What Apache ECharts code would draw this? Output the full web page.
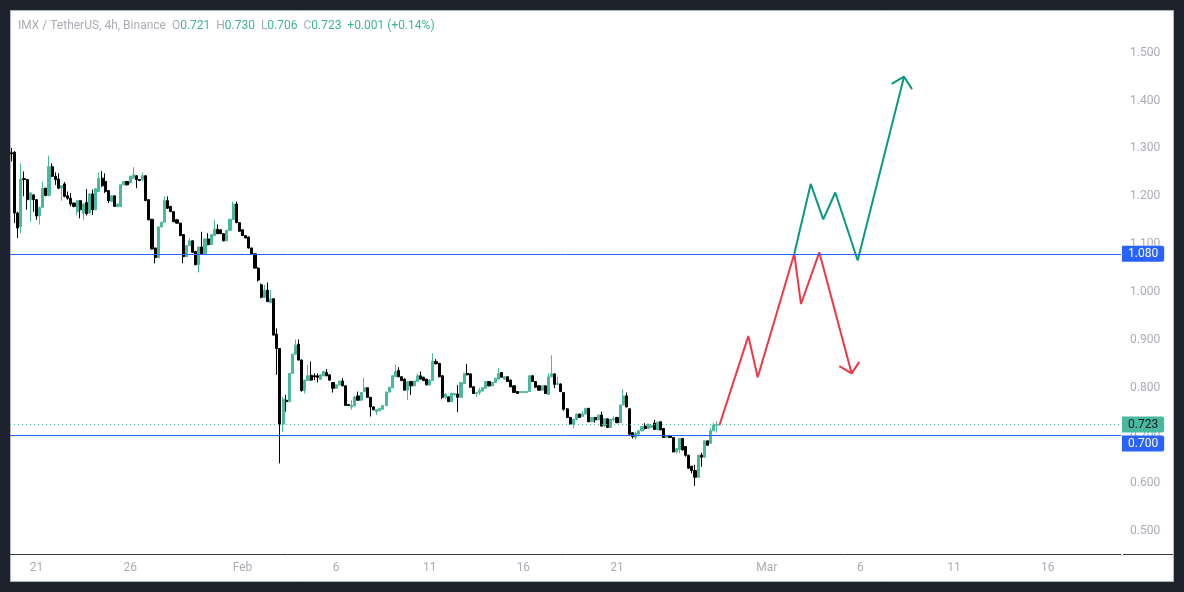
<!DOCTYPE html>
<html><head><meta charset="utf-8">
<script src="https://cdn.jsdelivr.net/npm/echarts@6/dist/echarts.min.js"></script>
<style>html,body{margin:0;padding:0;background:#1e222d;} #c{width:1184px;height:592px;}</style>
</head><body><div id="c"></div>
<script>
const FONT = 'Roboto, "Liberation Sans", sans-serif';

// 4h slots, starting Jan 19 2025 16:00 (UTC)
const slotStart = Date.UTC(2025, 0, 19, 16);
const slotCount = 356;
const categories = [];
for (let i = 0; i < slotCount; i++) {
  const d = new Date(slotStart + i * 4 * 3600 * 1000);
  categories.push(d.toISOString().slice(0, 13).replace('T', ' ') + ':00');
}

const tickDates = ['2025-01-21 00:00','2025-01-26 00:00','2025-02-01 00:00','2025-02-06 00:00','2025-02-11 00:00','2025-02-16 00:00','2025-02-21 00:00','2025-03-01 00:00','2025-03-06 00:00','2025-03-11 00:00','2025-03-16 00:00'];
const tickLabels = ['21','26','Feb','6','11','16','21','Mar','6','11','16'];

const opens = [
1.291,1.292,1.165,1.137,1.237,1.235,1.193,1.203,1.193,1.159,
1.177,1.217,1.202,1.262,1.242,1.236,1.217,1.226,1.201,1.196,
1.186,1.168,1.191,1.165,1.187,1.165,1.205,1.172,1.210,1.238,
1.231,1.212,1.189,1.201,1.179,1.179,1.224,1.231,1.228,1.238,
1.243,1.235,1.235,1.243,1.193,1.152,1.092,1.072,1.136,1.146,
1.191,1.179,1.168,1.151,1.144,1.120,1.074,1.097,1.107,1.085,
1.057,1.094,1.080,1.111,1.099,1.118,1.131,1.130,1.122,1.107,
1.129,1.152,1.184,1.145,1.130,1.118,1.115,1.092,1.080,1.050,
1.015,0.989,1.004,0.978,0.986,0.912,0.882,0.724,0.774,0.771,
0.830,0.870,0.891,0.858,0.794,0.815,0.826,0.825,0.825,0.818,
0.825,0.832,0.827,0.811,0.799,0.806,0.814,0.804,0.765,0.760,
0.762,0.783,0.774,0.792,0.800,0.780,0.760,0.750,0.752,0.755,
0.763,0.791,0.800,0.823,0.836,0.823,0.818,0.795,0.813,0.804,
0.813,0.825,0.822,0.818,0.806,0.815,0.855,0.851,0.825,0.780,
0.781,0.771,0.785,0.787,0.780,0.809,0.830,0.829,0.802,0.788,
0.790,0.793,0.799,0.813,0.804,0.811,0.818,0.832,0.818,0.823,
0.816,0.804,0.792,0.790,0.790,0.790,0.792,0.825,0.813,0.804,
0.795,0.804,0.786,0.823,0.829,0.807,0.808,0.790,0.756,0.738,
0.724,0.734,0.745,0.740,0.745,0.757,0.729,0.738,0.733,0.743,
0.720,0.735,0.717,0.733,0.738,0.727,0.764,0.783,0.756,0.706,
0.696,0.703,0.710,0.720,0.715,0.717,0.726,0.712,0.729,0.715,
0.696,0.699,0.696,0.666,0.671,0.694,0.677,0.659,0.636,0.627,
0.613,0.659,0.655,0.689,0.684,0.710,0.721];
const closes = [
1.289,1.165,1.134,1.236,1.235,1.193,1.207,1.193,1.159,1.177,
1.217,1.202,1.262,1.242,1.235,1.217,1.222,1.200,1.196,1.184,
1.179,1.191,1.172,1.184,1.164,1.205,1.172,1.216,1.238,1.222,
1.210,1.191,1.201,1.179,1.184,1.224,1.231,1.224,1.242,1.245,
1.235,1.233,1.243,1.191,1.151,1.090,1.072,1.136,1.146,1.191,
1.175,1.168,1.147,1.144,1.118,1.074,1.097,1.107,1.083,1.057,
1.094,1.080,1.111,1.099,1.120,1.131,1.122,1.122,1.107,1.129,
1.152,1.184,1.145,1.127,1.118,1.113,1.092,1.080,1.050,1.025,
0.989,1.004,0.980,0.986,0.910,0.882,0.724,0.776,0.771,0.830,
0.870,0.889,0.858,0.794,0.816,0.825,0.816,0.823,0.822,0.827,
0.834,0.825,0.816,0.799,0.806,0.814,0.804,0.763,0.763,0.763,
0.781,0.774,0.790,0.800,0.780,0.760,0.754,0.754,0.757,0.763,
0.791,0.801,0.825,0.834,0.823,0.815,0.795,0.813,0.804,0.814,
0.825,0.818,0.815,0.806,0.816,0.855,0.850,0.823,0.780,0.787,
0.771,0.788,0.788,0.780,0.811,0.830,0.827,0.801,0.788,0.790,
0.795,0.800,0.813,0.804,0.811,0.820,0.830,0.822,0.823,0.813,
0.802,0.790,0.788,0.792,0.792,0.792,0.825,0.813,0.801,0.795,
0.804,0.788,0.823,0.829,0.807,0.809,0.792,0.755,0.738,0.724,
0.734,0.745,0.738,0.745,0.757,0.729,0.738,0.733,0.743,0.720,
0.735,0.717,0.734,0.735,0.727,0.764,0.783,0.760,0.703,0.698,
0.705,0.710,0.719,0.715,0.724,0.721,0.713,0.728,0.712,0.696,
0.699,0.696,0.666,0.673,0.694,0.670,0.659,0.632,0.627,0.613,
0.659,0.655,0.689,0.680,0.710,0.722,0.723];
const lows = [
1.273,1.144,1.113,1.123,1.200,1.172,1.147,1.168,1.151,1.141,
1.176,1.200,1.200,1.240,1.224,1.215,1.191,1.198,1.193,1.179,
1.177,1.161,1.154,1.151,1.160,1.164,1.161,1.171,1.209,1.220,
1.207,1.186,1.188,1.178,1.177,1.178,1.223,1.223,1.227,1.237,
1.217,1.232,1.231,1.190,1.150,1.089,1.060,1.071,1.135,1.145,
1.174,1.167,1.146,1.143,1.117,1.060,1.073,1.096,1.082,1.056,
1.041,1.079,1.079,1.098,1.098,1.117,1.121,1.121,1.106,1.106,
1.128,1.151,1.144,1.126,1.117,1.112,1.091,1.079,1.049,1.022,
0.987,0.987,0.979,0.977,0.909,0.827,0.642,0.708,0.750,0.770,
0.829,0.869,0.857,0.792,0.788,0.814,0.815,0.816,0.811,0.817,
0.824,0.824,0.815,0.790,0.798,0.805,0.803,0.762,0.762,0.754,
0.761,0.773,0.773,0.791,0.779,0.740,0.753,0.743,0.751,0.754,
0.762,0.790,0.799,0.822,0.822,0.814,0.794,0.774,0.785,0.803,
0.812,0.817,0.814,0.805,0.805,0.814,0.849,0.822,0.776,0.776,
0.770,0.770,0.784,0.749,0.779,0.808,0.826,0.800,0.787,0.781,
0.785,0.792,0.798,0.803,0.803,0.810,0.817,0.821,0.817,0.812,
0.801,0.789,0.787,0.789,0.789,0.789,0.791,0.812,0.800,0.794,
0.794,0.787,0.785,0.822,0.799,0.806,0.791,0.752,0.737,0.723,
0.715,0.733,0.737,0.739,0.744,0.728,0.728,0.727,0.732,0.719,
0.719,0.716,0.716,0.729,0.726,0.726,0.763,0.759,0.701,0.694,
0.692,0.702,0.709,0.713,0.714,0.716,0.712,0.711,0.711,0.695,
0.695,0.695,0.665,0.663,0.663,0.669,0.656,0.631,0.621,0.595,
0.612,0.635,0.654,0.679,0.683,0.709,0.706];
const highs = [
1.301,1.295,1.168,1.269,1.252,1.236,1.209,1.205,1.194,1.178,
1.231,1.218,1.285,1.269,1.250,1.248,1.223,1.230,1.210,1.207,
1.187,1.192,1.192,1.185,1.215,1.206,1.214,1.217,1.250,1.253,
1.248,1.213,1.202,1.202,1.185,1.225,1.232,1.232,1.243,1.261,
1.244,1.236,1.250,1.244,1.194,1.153,1.093,1.137,1.147,1.200,
1.200,1.180,1.169,1.152,1.145,1.121,1.098,1.113,1.108,1.086,
1.095,1.126,1.112,1.123,1.121,1.150,1.141,1.131,1.123,1.130,
1.153,1.189,1.189,1.146,1.131,1.119,1.116,1.093,1.081,1.052,
1.018,1.015,1.020,1.004,0.987,0.924,0.883,0.781,0.785,0.831,
0.871,0.901,0.901,0.859,0.817,0.848,0.855,0.830,0.830,0.828,
0.835,0.839,0.828,0.812,0.807,0.815,0.820,0.805,0.766,0.774,
0.782,0.792,0.791,0.821,0.801,0.781,0.761,0.755,0.758,0.764,
0.792,0.802,0.826,0.848,0.843,0.824,0.820,0.814,0.814,0.815,
0.830,0.834,0.823,0.819,0.817,0.872,0.860,0.852,0.826,0.788,
0.782,0.790,0.789,0.806,0.812,0.831,0.850,0.830,0.803,0.791,
0.800,0.801,0.814,0.814,0.812,0.821,0.841,0.833,0.824,0.824,
0.817,0.805,0.793,0.793,0.793,0.793,0.826,0.826,0.814,0.805,
0.805,0.805,0.830,0.868,0.830,0.823,0.809,0.791,0.757,0.739,
0.735,0.746,0.746,0.751,0.758,0.758,0.739,0.739,0.744,0.750,
0.736,0.736,0.735,0.741,0.739,0.765,0.797,0.790,0.757,0.707,
0.708,0.711,0.720,0.726,0.725,0.722,0.733,0.729,0.730,0.716,
0.700,0.700,0.697,0.674,0.695,0.695,0.678,0.660,0.637,0.639,
0.660,0.664,0.690,0.690,0.715,0.727,0.730];

const headerParts = ['IMX / TetherUS, 4h, Binance', '0.721', '0.730', '0.706', '0.723', '+0.001 (+0.14%)'];
const levelBlue = [1.080, 0.700];
const lastPrice = 0.723;

// projection drawings (x = 4h slot index, y = price)
const redPathX = [226.8, 236.08, 239.09, 250.81, 252.96, 258.82, 269.2];
const redPathY = [0.721, 0.908, 0.822, 1.080, 0.975, 1.083, 0.830];
const redHeadX = [265.23, 269.2, 271.64];
const redHeadY = [0.845, 0.830, 0.854];
const greenPathX = [250.81, 256.07, 260.1, 263.95, 271.13, 285.97];
const greenPathY = [1.080, 1.226, 1.152, 1.208, 1.066, 1.450];
const greenHeadX = [282.03, 285.97, 288.53];
const greenHeadY = [1.435, 1.450, 1.424];

const UP = '#46b99e', DOWN = '#000000', BLUE = '#2962ff', RED = '#f23645', TEAL = '#089981';
const TXT = '#a9acb5';
const zip = (xs, ys) => xs.map((x, i) => [x, ys[i]]);

const chart = echarts.init(document.getElementById('c'), null, {renderer: 'canvas'});
const boxLabel = (value, bg, fg, extra) => Object.assign({
  show: true, position: 'end', distance: 1,
  formatter: () => value.toFixed(3),
  backgroundColor: bg, color: fg, fontFamily: FONT, fontSize: 12,
  padding: [2, 6, 1, 6], borderRadius: [0, 2, 2, 0], lineHeight: 13
}, extra || {});

chart.setOption({
  backgroundColor: '#1e222d',
  animation: false,
  title: {
    left: 18, top: 20, padding: 0,
    text: '{g|' + headerParts[0] + '}  {g|O}{v|' + headerParts[1] + '}  {g|H}{v|' + headerParts[2] + '}  {g|L}{v|' + headerParts[3] + '}  {g|C}{v|' + headerParts[4] + '}  {v|' + headerParts[5] + '}',
    textStyle: {
      fontSize: 12, fontFamily: FONT, fontWeight: 'normal',
      rich: {
        g: {color: TXT, fontSize: 12, fontFamily: FONT},
        v: {color: '#3bb598', fontSize: 12, fontFamily: FONT}
      }
    }
  },
  graphic: [
    {type: 'rect', z: -10, silent: true, shape: {x: 10.5, y: 10.5, width: 1163, height: 571}, style: {fill: '#ffffff', stroke: '#b3b6be', lineWidth: 1}},
    {type: 'line', z: 10, silent: true, shape: {x1: 1123, y1: 554.5, x2: 1173, y2: 554.5}, style: {stroke: '#363a45', lineWidth: 1}}
  ],
  grid: {left: 10, right: 63, top: 10, bottom: 38, containLabel: false},
  xAxis: [
    {
      type: 'category', data: categories, boundaryGap: true,
      axisLine: {lineStyle: {color: '#363a45', width: 1}},
      axisTick: {show: false}, splitLine: {show: false},
      axisLabel: {
        interval: (i, v) => tickDates.indexOf(v) >= 0,
        formatter: v => tickLabels[tickDates.indexOf(v)],
        color: TXT, fontSize: 12, fontFamily: FONT, margin: 8, hideOverlap: false
      }
    },
    {type: 'value', min: -0.5, max: slotCount - 0.5, show: false}
  ],
  yAxis: {
    type: 'value', position: 'right', min: 0.4526, max: 1.5894, splitNumber: 11,
    axisLine: {show: false}, axisTick: {show: false}, splitLine: {show: false},
    axisLabel: {
      color: TXT, fontSize: 12, fontFamily: FONT, margin: 9,
      showMinLabel: false, showMaxLabel: false,
      formatter: v => v.toFixed(3)
    }
  },
  series: [
    {
      type: 'candlestick', xAxisIndex: 0, yAxisIndex: 0,
      data: opens.map((o, i) => [o, closes[i], lows[i], highs[i]]),
      barWidth: 2.6,
      itemStyle: {color: UP, color0: DOWN, borderColor: UP, borderColor0: DOWN, borderWidth: 1},
      markLine: {
        symbol: ['none', 'none'], silent: true, animation: false, z: 6, precision: 3,
        data: [
          {yAxis: levelBlue[0], lineStyle: {color: BLUE, width: 1, type: 'solid'}, label: boxLabel(levelBlue[0], BLUE, '#ffffff')},
          {yAxis: lastPrice, lineStyle: {color: UP, width: 1, type: [1, 3]}, label: boxLabel(lastPrice, UP, '#131722')},
          {yAxis: levelBlue[1], lineStyle: {color: BLUE, width: 1, type: 'solid'}, label: boxLabel(levelBlue[1], BLUE, '#ffffff', {verticalAlign: 'top'})}
        ]
      }
    },
    {type: 'line', xAxisIndex: 1, yAxisIndex: 0, data: zip(redPathX, redPathY), symbol: 'none', z: 5, lineStyle: {color: RED, width: 2}},
    {type: 'line', xAxisIndex: 1, yAxisIndex: 0, data: zip(redHeadX, redHeadY), symbol: 'none', z: 5, lineStyle: {color: RED, width: 2}},
    {type: 'line', xAxisIndex: 1, yAxisIndex: 0, data: zip(greenPathX, greenPathY), symbol: 'none', z: 5, lineStyle: {color: TEAL, width: 2}},
    {type: 'line', xAxisIndex: 1, yAxisIndex: 0, data: zip(greenHeadX, greenHeadY), symbol: 'none', z: 5, lineStyle: {color: TEAL, width: 2}}
  ]
});
</script></body></html>
